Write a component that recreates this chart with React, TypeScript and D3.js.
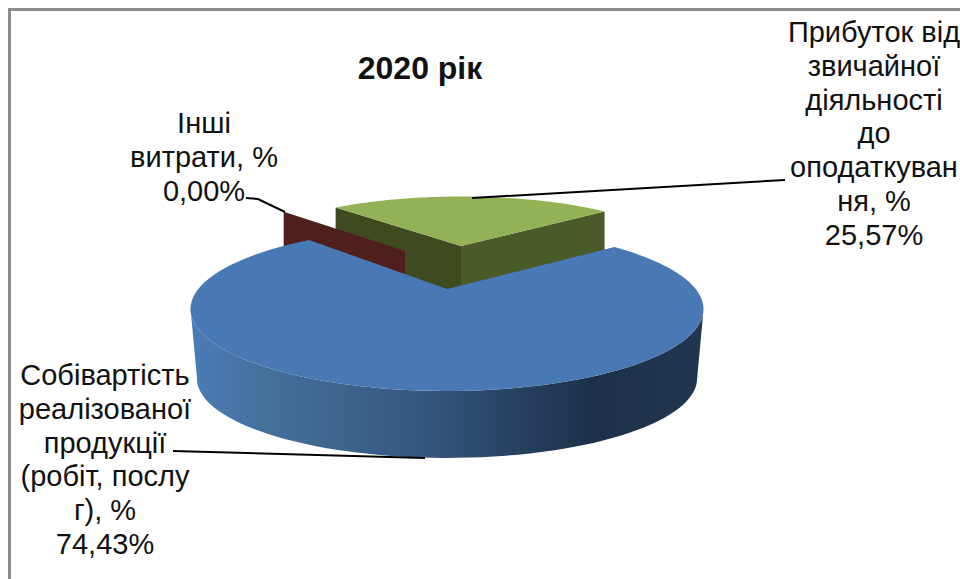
import React from "react";
import * as d3 from "d3";

const categories = ["Собівартість реалізованої продукції (робіт, послуг), %", "Інші витрати, %", "Прибуток від звичайної діяльності до оподаткування, %"];
const values = [74.43, 0.0, 25.57];
const title = "2020 рік";
const labelLines = [
  ["Собівартість", "реалізованої", "продукції", "(робіт, послу", "г), %", "74,43%"],
  ["Інші", "витрати, %", "0,00%"],
  ["Прибуток від", "звичайної", "діяльності", "до", "оподаткуван", "ня, %", "25,57%"],
];

const FONT = "'Liberation Sans', Arial, sans-serif";
const P = 0.245, A = 248.7, B = 77, DEPTH = 69;
const START = (51 * Math.PI) / 180;
const BACK_TWIST = (-1.5 * Math.PI) / 180;

type Pt = [number, number];
const project = (t: number, cx: number, cy: number, sx = 1, sy = 1): Pt => {
  const u = Math.sin(t), v = -Math.cos(t);
  const d = 1 - P * v;
  return [cx + (sx * A * u) / d, cy + (sy * B * v) / d];
};
const arcPts = (a0: number, a1: number, cx: number, cy: number, sx = 1, sy = 1): Pt[] =>
  d3.range(0, 121).map((i) => project(a0 + ((a1 - a0) * i) / 120, cx, cy, sx, sy));
const line = d3.line<Pt>();
const closed = (p: Pt[]) => line(p) + "Z";

export default function App() {
  const arcs = d3.pie<number>().sort(null).startAngle(START).endAngle(START + 2 * Math.PI)(values);
  const [blue, red, green] = arcs;

  // exploded main slice
  const bc: Pt = [447, 289];
  const blueTop = arcPts(blue.startAngle, blue.endAngle, bc[0], bc[1]);
  const blueBottom = arcPts(blue.startAngle, blue.endAngle, bc[0], bc[1] + DEPTH + 1, 0.975, 0.97);
  // the visible rim runs from the rightmost to the leftmost point of the arc
  const iR = d3.greatestIndex(blueTop, (p) => p[0]);
  const iL = d3.leastIndex(blueTop, (p) => p[0]);
  const blueSide = [...blueTop.slice(iR, iL + 1), ...blueBottom.slice(iR, iL + 1).reverse()];

  // back slices
  const gsx = 0.88, gsy = 0.8;
  const gc: Pt = [461, 246];
  const gTop = arcPts(green.startAngle + BACK_TWIST, green.endAngle + BACK_TWIST, gc[0], gc[1], gsx, gsy);
  const gL = gTop[0], gR = gTop[gTop.length - 1];
  const down = (p: Pt, h = DEPTH): Pt => [p[0], p[1] + h];

  const rc: Pt = [405, 251];
  const rOuter = project(red.startAngle, rc[0], rc[1], gsx, gsy);

  const leaders: Pt[][] = [
    [[472, 198], [785, 180]],
    [[246, 198], [258, 199], [285, 212]],
    [[173, 451], [425, 458]],
  ];

  const tx = [105, 204, 874];
  const ty = [385, 133, 42];
  const lh = 33.8;

  return (
    <svg width={960} height={579} style={{ position: "fixed", left: 0, top: 0, background: "#fff" }} fontFamily={FONT}>
      <defs>
        <linearGradient id="side" gradientUnits="userSpaceOnUse" x1={192} x2={705} y1={0} y2={0}>
          <stop offset="0" stopColor="#4a7cb8" />
          <stop offset="0.12" stopColor="#45729f" />
          <stop offset="0.45" stopColor="#36567f" />
          <stop offset="0.78" stopColor="#1c3049" />
          <stop offset="1" stopColor="#21364f" />
        </linearGradient>
      </defs>
      <path d="M9.5 579V9.5H960" fill="none" stroke="#8c8c8c" strokeWidth={3} />
      <text x={420} y={79} fontSize={32} fontWeight="bold" textAnchor="middle" fill="#111">{title}</text>

      {/* back slice walls */}
      <path d={closed([gc, gL, down(gL), down(gc)])} fill="#3f4a21" />
      <path d={closed([gc, gR, down(gR), down(gc)])} fill="#4a5a28" />
      <path d={closed([rc, rOuter, down(rOuter), down(rc)])} fill="#4f1f1e" />
      <path d={closed([gc, ...gTop])} fill="#93b155" />

      {/* main slice */}
      <path d={closed(blueSide)} fill="url(#side)" />
      <path d={closed([bc, ...blueTop])} fill="#4979b4" />

      {leaders.map((l, i) => (
        <path key={i} d={line(l) as string} fill="none" stroke="#000" strokeWidth={2} />
      ))}

      {labelLines.map((lines, i) => (
        <text key={categories[i]} fontSize={29} textAnchor="middle" fill="#111">
          {lines.map((s, j) => (
            <tspan key={j} x={tx[i]} y={ty[i] + j * lh}>{s}</tspan>
          ))}
        </text>
      ))}
    </svg>
  );
}
